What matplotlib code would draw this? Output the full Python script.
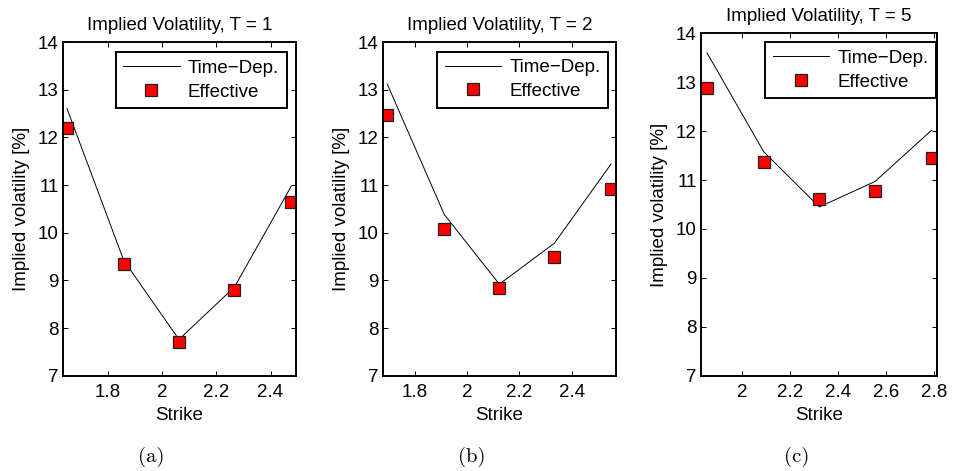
import matplotlib
matplotlib.use("Agg")
import matplotlib.pyplot as plt

plt.rcParams['font.family'] = ['Liberation Sans', 'DejaVu Sans']

# ---- data ----
maturities = [1, 2, 5]
strike_T1 = [1.649, 1.858, 2.062, 2.267, 2.476]
timedep_T1 = [12.60, 9.42, 7.76, 8.86, 10.97]
effective_T1 = [12.20, 9.35, 7.70, 8.80, 10.65]

strike_T2 = [1.693, 1.912, 2.123, 2.334, 2.551]
timedep_T2 = [13.12, 10.38, 8.92, 9.78, 11.44]
effective_T2 = [12.47, 10.07, 8.83, 9.50, 10.92]

strike_T5 = [1.853, 2.089, 2.321, 2.553, 2.789]
timedep_T5 = [13.60, 11.58, 10.45, 10.97, 12.02]
effective_T5 = [12.88, 11.37, 10.62, 10.77, 11.45]

xlims = [(1.634, 2.494), (1.677, 2.570), (1.828, 2.810)]
xticks = [[1.8, 2.0, 2.2, 2.4], [1.8, 2.0, 2.2, 2.4], [2.0, 2.2, 2.4, 2.6, 2.8]]
yticks = [7, 8, 9, 10, 11, 12, 13, 14]
captions = ['(a)', '(b)', '(c)']

strikes = [strike_T1, strike_T2, strike_T5]
timedeps = [timedep_T1, timedep_T2, timedep_T5]
effectives = [effective_T1, effective_T2, effective_T5]

W, H = 955, 471
fig = plt.figure(figsize=(W / 100, H / 100), dpi=100)

# axes boxes in pixels: left, top, right, bottom
boxes = [(63, 42, 296, 375.7), (383, 42, 616, 375.7), (701, 33.3, 936.7, 375.7)]
legend_corners = [(286.7, 52.3), (608.3, 51.7), (936, 42.3)]
caption_x = [151.7, 471.7, 796.7]

fs = 13.5
for i in range(3):
    l, t, r, b = boxes[i]
    ax = fig.add_axes([l / W, 1 - b / H, (r - l) / W, (b - t) / H])
    ax.plot(strikes[i], timedeps[i], color='black', lw=0.7, label='Time\u2212Dep.')
    ax.plot(strikes[i], effectives[i], linestyle='none', marker='s', ms=8.5,
            mfc='#ff0000', mec='#202020', mew=0.9, label='Effective')
    ax.set_xlim(*xlims[i])
    ax.set_ylim(7, 14)
    ax.set_xticks(xticks[i])
    ax.set_xticklabels([f'{v:g}' for v in xticks[i]])
    ax.set_yticks(yticks)
    ax.tick_params(direction='in', top=True, right=True, length=3.5, width=0.7,
                   labelsize=fs)
    ax.tick_params(axis='x', pad=6)
    ax.tick_params(axis='y', pad=3)
    for s in ax.spines.values():
        s.set_linewidth(1.4)
    ax.set_title(f'Implied Volatility, T = {maturities[i]}', fontsize=fs, pad=9)
    ax.set_xlabel('Strike', fontsize=fs, labelpad=4)
    ax.set_ylabel('Implied volatility [%]', fontsize=fs, labelpad=6)
    lx, ly = legend_corners[i]
    leg = ax.legend(loc='upper right', bbox_to_anchor=(lx / W, 1 - ly / H),
                    bbox_transform=fig.transFigure, borderaxespad=0,
                    fontsize=fs, frameon=True, fancybox=False, framealpha=1,
                    edgecolor='black', handlelength=3.0, handletextpad=0.45,
                    labelspacing=0.35, borderpad=0.4)
    leg.get_frame().set_linewidth(1.4)
    fig.text(caption_x[i] / W, 1 - 456.7 / H, captions[i], fontsize=15,
             family='cmr10', ha='center', va='center')

fig.savefig('out.png', dpi=100)
